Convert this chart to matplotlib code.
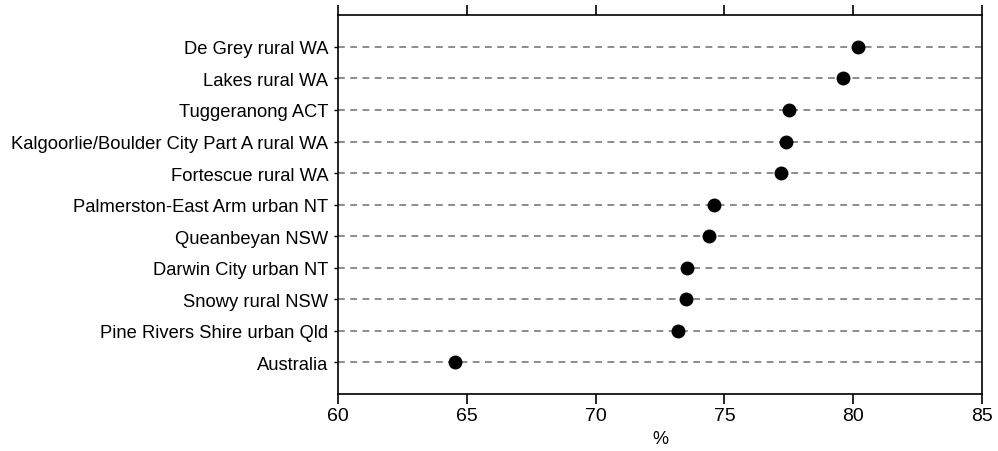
import numpy as np
import matplotlib.pyplot as plt

# share of population, per region
regions = ['De Grey rural WA', 'Lakes rural WA', 'Tuggeranong ACT',
           'Kalgoorlie/Boulder City Part A rural WA', 'Fortescue rural WA',
           'Palmerston-East Arm urban NT', 'Queanbeyan NSW', 'Darwin City urban NT',
           'Snowy rural NSW', 'Pine Rivers Shire urban Qld', 'Australia']
pct = [80.2, 79.6, 77.5, 77.4, 77.2, 74.6, 74.4, 73.55, 73.5, 73.2, 64.55]
xticks = [60, 65, 70, 75, 80, 85]

plt.rcParams['font.family'] = ['Liberation Sans', 'DejaVu Sans']

fig = plt.figure(figsize=(9.98, 4.52), dpi=100)
ax = fig.add_axes([0.3387, 0.126, 0.6453, 0.838])

y = np.arange(len(regions))
for yi in y:
    ax.axhline(yi, color='#8c8c8c', linestyle=(0, (3.5, 2.8)), linewidth=1.4, zorder=1)
ax.plot(pct, y, 'o', color='black', markersize=9, zorder=3)

ax.set_xlim(60, 85)
ax.set_ylim(len(regions), -1)
ax.set_xticks(xticks)
ax.set_yticks(y)
ax.set_yticklabels(regions)
ax.set_xlabel('%', fontsize=13, labelpad=5)

ax.tick_params(axis='x', which='both', top=True, direction='out', length=7,
               width=1.2, labelsize=14, pad=2)
ax.tick_params(axis='y', direction='out', length=3, width=1, labelsize=13.2, pad=4)
for s in ax.spines.values():
    s.set_linewidth(1.2)

fig.savefig('out.png', dpi=100)
